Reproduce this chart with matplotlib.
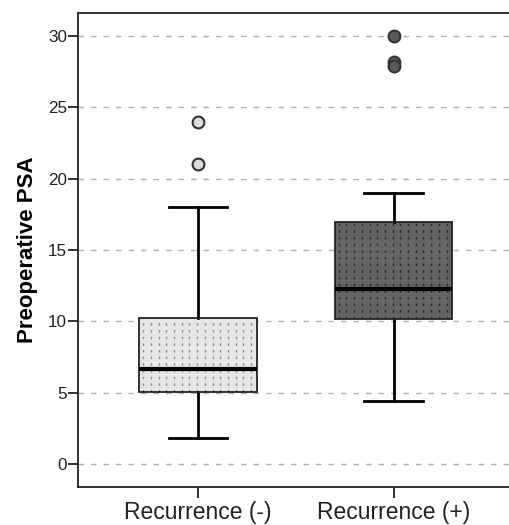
import numpy as np
import matplotlib
matplotlib.use('Agg')
import matplotlib.pyplot as plt
from matplotlib.patches import PathPatch

plt.rcParams['font.family'] = ['Liberation Sans', 'DejaVu Sans']

# box statistics
groups = ['Recurrence (-)', 'Recurrence (+)']
q1 = [5.05, 10.2]
med = [6.7, 12.25]
q3 = [10.25, 17.0]
whislo = [1.85, 4.45]
whishi = [18.0, 19.0]
fliers = [[24.0, 21.0], [30.0, 28.2, 27.9]]

box_colors = ['#e6e6e6', '#646464']
dot_colors = ['#8c8c8c', '#2a2a2a']
flier_colors = ['#dcdcdc', '#5a5a5a']

stats = []
for i in range(len(groups)):
    stats.append(dict(label=groups[i], q1=q1[i], med=med[i], q3=q3[i],
                      whislo=whislo[i], whishi=whishi[i], fliers=fliers[i]))

fig = plt.figure(figsize=(5.1, 5.25), dpi=100)
ax = fig.add_axes([0.153, 0.0724, 0.847, 0.9026])

# dashed grid behind
ax.set_axisbelow(True)
ax.yaxis.grid(True, color='#b0b0b0', linestyle=(0, (4, 5)), linewidth=1.0)

bp = ax.bxp(stats, positions=[0, 1], widths=0.6, patch_artist=True,
            showfliers=True, manage_ticks=False,
            medianprops=dict(color='black', linewidth=3, zorder=3),
            whiskerprops=dict(color='black', linewidth=2),
            capprops=dict(color='black', linewidth=2),
            capwidths=0.3)

# dotted vertical pattern inside the boxes, then black outline
step = 0.0394
for i, box in enumerate(bp['boxes']):
    box.set_facecolor(box_colors[i])
    box.set_linewidth(0)
    v = box.get_path().vertices
    x0, x1 = v[:, 0].min(), v[:, 0].max()
    y0, y1 = v[:, 1].min(), v[:, 1].max()
    xs = np.arange(x0 + step * 0.5, x1, step)
    lc = ax.vlines(xs, y0, y1, colors=dot_colors[i], linewidth=1.0,
                   linestyles=[(0, (1.8, 3.0))], zorder=2.2)
    lc.set_clip_path(box)
    ax.add_patch(PathPatch(box.get_path(), transform=box.get_transform(),
                           fill=False, edgecolor='#222222', linewidth=1.3, zorder=2.5))

for i, fl in enumerate(bp['fliers']):
    fl.set_marker('o')
    fl.set_markersize(8.5)
    fl.set_markerfacecolor(flier_colors[i])
    fl.set_markeredgecolor('#333333')
    fl.set_markeredgewidth(1.5)

ax.set_xlim(-0.614, 1.596)
ax.set_ylim(-1.6, 31.6)
ax.set_yticks([0, 5, 10, 15, 20, 25, 30])
ax.set_xticks([0, 1])
ax.set_xticklabels(groups, fontsize=16.5, color='#222222')
ax.tick_params(axis='y', labelsize=12.3, length=7, width=1.3, colors='#222222', pad=1)
ax.tick_params(axis='x', length=8, width=1.3, colors='#222222', pad=2)

for s in ['left', 'bottom', 'top']:
    ax.spines[s].set_color('#222222')
    ax.spines[s].set_linewidth(1.3)
ax.spines['right'].set_visible(False)

ax.set_ylabel('Preoperative PSA', fontsize=16, fontweight='bold', labelpad=7)

fig.savefig('out.png', dpi=100)
